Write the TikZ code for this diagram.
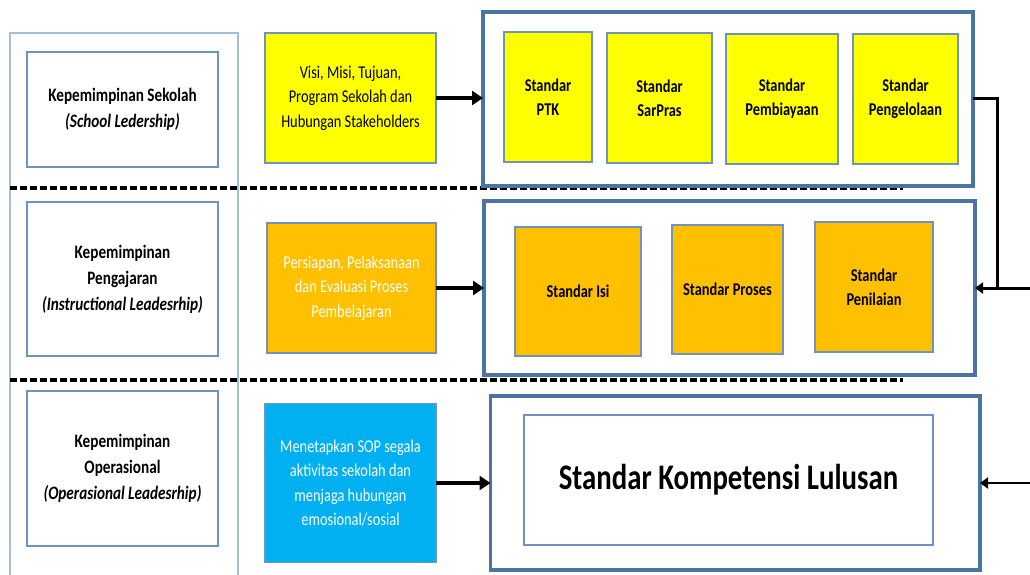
\documentclass[tikz,border=0pt]{standalone}
\usepackage{fontspec}
\setmainfont{Carlito}[FakeStretch=0.8]
\usetikzlibrary{arrows.meta}
\definecolor{bigb}{HTML}{4A75A3}
\definecolor{smb}{HTML}{6F93C0}
\definecolor{lightb}{HTML}{A7BEDB}
\definecolor{yel}{HTML}{FFFF00}
\definecolor{org}{HTML}{FFC000}
\definecolor{cyanb}{HTML}{00B0F0}
\newcommand\myfs[2]{\fontsize{#1}{#2}\selectfont}
\begin{document}
\begin{tikzpicture}[x=1pt,y=-1pt,
  every node/.style={inner sep=0pt, outer sep=0pt, align=center},
  outerbox/.style={draw=lightb, line width=1.2pt},
  labelbox/.style={draw=smb, line width=1.4pt, fill=white, font=\myfs{19}{26}\bfseries},
  actbox/.style={draw=smb, line width=1.4pt, font=\myfs{18}{24.5}},
  groupbox/.style={draw=bigb, line width=3.3pt, fill=white},
  stdbox/.style={draw=smb, line width=1.4pt, font=\myfs{18}{24}\bfseries},
  sepline/.style={line width=3.3pt, dash pattern=on 7pt off 3pt},
  mainarrow/.style={line width=3.8pt, -{Triangle[length=11pt,width=14pt]}},
  sidearrow/.style={line width=3pt, -{Triangle[length=8pt,width=11pt]}},
]
\useasboundingbox (0,0) rectangle (1030,575);
% left column container
\node[outerbox, minimum width=228pt, minimum height=547pt] (lead) at (124,306.5) {};
% dashed separators
\coordinate (d1a) at (10,188);
\coordinate (d1b) at (903,188);
\coordinate (d2a) at (10,380);
\coordinate (d2b) at (903,380);
\draw[sepline] (d1a) -- (d1b);
\draw[sepline] (d2a) -- (d2b);
% left labels
\node[labelbox, minimum width=191pt, minimum height=115pt] (L1) at (122.5,109.5)
  {Kepemimpinan Sekolah\\ \itshape (School Ledership)};
\node[labelbox, minimum width=191pt, minimum height=154pt] (L2) at (122.5,279)
  {Kepemimpinan\\ Pengajaran\\ \itshape (Instructional Leadesrhip)};
\node[labelbox, minimum width=191pt, minimum height=155pt] (L3) at (122.5,468.5)
  {Kepemimpinan\\ Operasional\\ \itshape (Operasional Leadesrhip)};
% activity boxes
\node[actbox, fill=yel, minimum width=171pt, minimum height=130pt] (Y) at (350.5,98)
  {Visi, Misi, Tujuan,\\ Program Sekolah dan\\ Hubungan Stakeholders};
\node[actbox, fill=org, text=white, minimum width=169pt, minimum height=130pt] (O) at (351.5,288)
  {Persiapan, Pelaksanaan\\ dan Evaluasi Proses\\ Pembelajaran};
\node[actbox, fill=cyanb, text=white, minimum width=171pt, minimum height=159pt] (B) at (350.5,483)
  {Menetapkan SOP segala\\ aktivitas sekolah dan\\ menjaga hubungan\\ emosional/sosial};
% group boxes
\node[groupbox, minimum width=490pt, minimum height=174pt] (G1) at (728,99) {};
\node[groupbox, minimum width=491pt, minimum height=174pt] (G2) at (729.5,288) {};
\node[groupbox, minimum width=489.5pt, minimum height=174pt] (G3) at (735.25,483) {};
% standards row 1
\node[stdbox, fill=yel, minimum width=88pt, minimum height=130pt] (PTK) at (548,97) {Standar\\ PTK};
\node[stdbox, fill=yel, minimum width=105pt, minimum height=130pt] (SP) at (659.5,98) {Standar\\ SarPras};
\node[stdbox, fill=yel, minimum width=112pt, minimum height=130pt] (PB) at (782,99) {Standar\\ Pembiayaan};
\node[stdbox, fill=yel, minimum width=105pt, minimum height=130pt] (PG) at (905.5,99) {Standar\\ Pengelolaan};
% standards row 2
\node[stdbox, fill=org, minimum width=126pt, minimum height=129pt] (ISI) at (578,291.5) {Standar Isi};
\node[stdbox, fill=org, minimum width=111pt, minimum height=129pt] (PR) at (727.5,289.5) {Standar Proses};
\node[stdbox, fill=org, minimum width=118pt, minimum height=130pt] (PN) at (874,287) {Standar\\ Penilaian};
% graduate competence
\node[draw=smb, line width=1.4pt, minimum width=409pt, minimum height=130pt,
  font=\myfs{36}{40}\bfseries] (SKL) at (728.5,480) {Standar Kompetensi Lulusan};
% arrows
\draw[mainarrow] (Y.east) -- (Y.east -| G1.west);
\draw[mainarrow] (O.east) -- (O.east -| G2.west);
\draw[mainarrow] (B.east) -- (B.east -| G3.west);
\coordinate (cr) at (997,0);
\coordinate (re2) at (1032,288);
\coordinate (re3) at (1032,483);
\draw[sidearrow] (G1.east) -| (cr |- G2.east) -- (G2.east);
\draw[line width=3pt] (re2) -- (cr |- G2.east);
\draw[line width=2.6pt, -{Triangle[length=8pt,width=11pt]}] (re3) -- (G3.east);
\end{tikzpicture}
\end{document}
